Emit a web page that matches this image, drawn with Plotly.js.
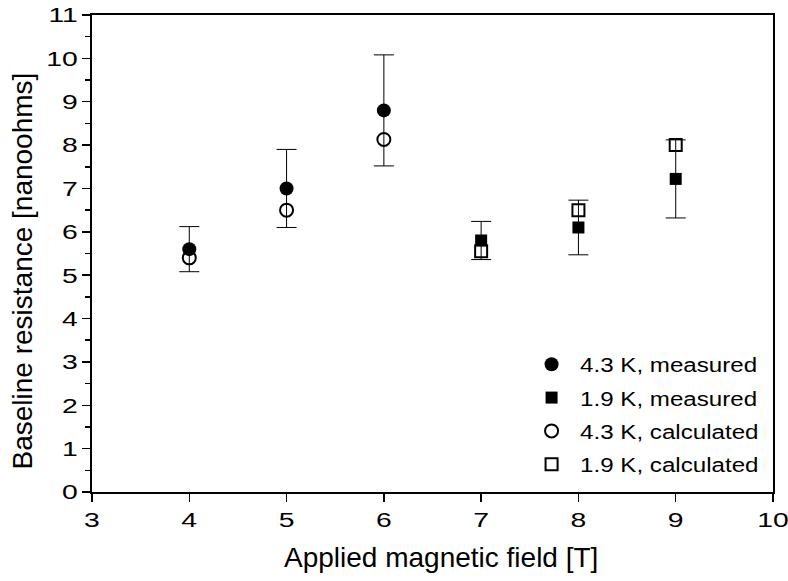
<!DOCTYPE html>
<html>
<head>
<meta charset="utf-8">
<script src="https://cdn.plot.ly/plotly-3.0.1.min.js"></script>
<style>
  html, body { margin: 0; padding: 0; background: #fff; }
  #chart { width: 788px; height: 581px; }
</style>
</head>
<body>
<div id="chart"></div>
<script>
// Applied field [T] for each temperature series
const field43 = [4, 5, 6];
const field19 = [7, 8, 9];

// Baseline resistance [nanoohms]
const measured43 = [5.6, 7.0, 8.8];
const error43 = [0.52, 0.9, 1.28];
const calculated43 = [5.4, 6.5, 8.13];

const measured19 = [5.8, 6.1, 7.22];
const error19 = [0.44, 0.63, 0.9];
const calculated19 = [5.55, 6.5, 8.0];

const xTicks = [3, 4, 5, 6, 7, 8, 9, 10];
const yTicks = [0, 1, 2, 3, 4, 5, 6, 7, 8, 9, 10, 11];

const FONT = 'Liberation Sans, Arial, sans-serif';

const errStyle = (arr) => ({
  type: 'data', array: arr, visible: true,
  color: '#000', thickness: 1, width: 10
});

const traces = [
  {
    x: field43, y: measured43, name: '4.3 K, measured', legendgroup: 'a',
    mode: 'markers', type: 'scatter',
    marker: { symbol: 'circle', size: 14, color: '#000' },
    error_y: errStyle(error43)
  },
  {
    x: field19, y: measured19, name: '1.9 K, measured', legendgroup: 'b',
    mode: 'markers', type: 'scatter',
    marker: { symbol: 'square', size: 12, color: '#000' },
    error_y: errStyle(error19)
  },
  {
    x: field43, y: calculated43, name: '4.3 K, calculated', legendgroup: 'c',
    mode: 'markers', type: 'scatter',
    marker: { symbol: 'circle-open', size: 13, color: '#000', line: { width: 2, color: '#000' } }
  },
  {
    x: field19, y: calculated19, name: '1.9 K, calculated', legendgroup: 'd',
    mode: 'markers', type: 'scatter',
    marker: { symbol: 'square-open', size: 12, color: '#000', line: { width: 2, color: '#000' } }
  }
];

const axisCommon = {
  showgrid: false, zeroline: false,
  showline: true, linecolor: '#000', linewidth: 2, mirror: true,
  ticks: 'outside', ticklen: 8, tickwidth: 1.5, tickcolor: '#000',
  tickfont: { family: FONT, size: 21, color: '#000' }
};

const layout = {
  width: 788, height: 581,
  margin: { l: 92, r: 15, t: 15, b: 89 },
  paper_bgcolor: '#fff', plot_bgcolor: '#fff',
  font: { family: FONT, color: '#000' },
  showlegend: true,
  legend: {
    x: 0.633, y: 0.31, xanchor: 'left', yanchor: 'top',
    bgcolor: 'rgba(0,0,0,0)', borderwidth: 0,
    font: { family: FONT, size: 21, color: '#000' },
    tracegroupgap: 3, traceorder: 'grouped', itemwidth: 47
  },
  xaxis: Object.assign({}, axisCommon, {
    range: [3, 10], tickvals: xTicks, ticktext: xTicks.map(String)
  }),
  yaxis: Object.assign({}, axisCommon, {
    range: [0, 11], tickvals: yTicks, ticktext: yTicks.map(String),
    minor: { ticks: 'outside', dtick: 0.5, ticklen: 5, tickwidth: 1.5, tickcolor: '#000' }
  }),
  annotations: [
    {
      text: 'Applied magnetic field [T]',
      xref: 'paper', yref: 'paper', x: 0.5125, y: -0.138,
      xanchor: 'center', yanchor: 'middle', showarrow: false,
      font: { family: FONT, size: 28, color: '#000' }
    },
    {
      text: 'Baseline resistance [nanoohms]',
      xref: 'paper', yref: 'paper', x: -0.1035, y: 0.4633,
      xanchor: 'center', yanchor: 'middle', textangle: -90, showarrow: false,
      font: { family: FONT, size: 28, color: '#000' }
    }
  ]
};

// Widen text elements along the page's x direction, keeping each anchor fixed.
function widenText(gd, selector, k) {
  gd.querySelectorAll(selector).forEach(el => {
    if (!el.textContent.trim()) return;
    const svg = el.ownerSVGElement;
    const r = el.getBoundingClientRect();
    const anchor = el.getAttribute('text-anchor') || 'start';
    let sx;
    if (anchor === 'middle') sx = (r.left + r.right) / 2;
    else if (anchor === 'end') sx = r.right;
    else sx = r.left;
    const M = el.parentNode.getScreenCTM();
    const S = svg.createSVGMatrix().translate(sx, 0).scaleNonUniform(k, 1).translate(-sx, 0);
    const T = M.inverse().multiply(S).multiply(M);
    const base = el.transform.baseVal.consolidate();
    const N = base ? T.multiply(base.matrix) : T;
    el.setAttribute('transform', `matrix(${N.a},${N.b},${N.c},${N.d},${N.e},${N.f})`);
  });
}

Plotly.newPlot('chart', traces, layout, { staticPlot: true, displayModeBar: false })
  .then(gd => {
    widenText(gd, '.xtick text, .ytick text', 1.35);
    widenText(gd, '.legendtext', 1.15);
    // let the widened legend labels extend past the computed legend box
    gd.querySelectorAll('.legend [clip-path]').forEach(e => e.removeAttribute('clip-path'));
  });
</script>
</body>
</html>
